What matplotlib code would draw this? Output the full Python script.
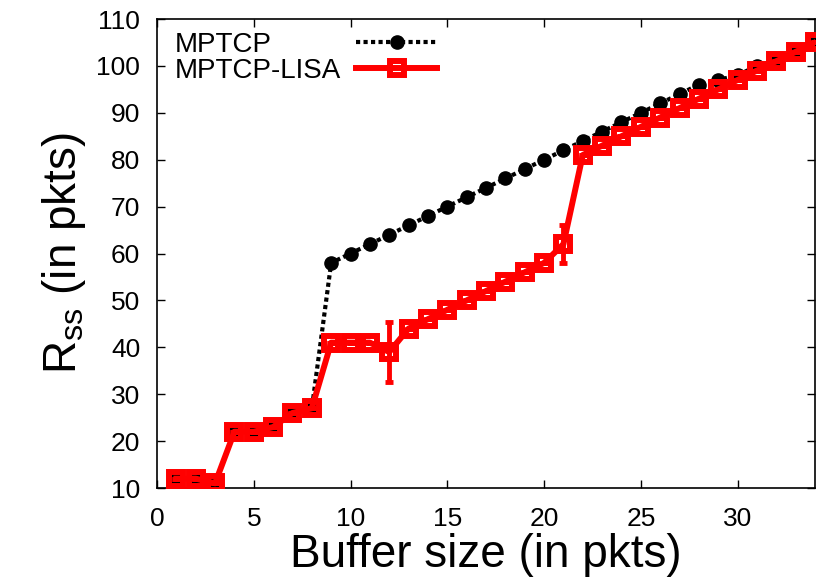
import matplotlib
matplotlib.use("Agg")
import matplotlib.pyplot as plt

plt.rcParams['font.family'] = ['Liberation Sans', 'DejaVu Sans']
plt.rcParams['mathtext.fontset'] = 'custom'
plt.rcParams['mathtext.rm'] = 'Liberation Sans'

buffer_size = list(range(1, 35))
mptcp = [12, 12, 11, 22, 22, 23, 26, 27, 58, 60, 62, 64, 66, 68, 70, 72, 74,
         76, 78, 80, 82, 84, 86, 88, 90, 92, 94, 96, 97, 98, 100, 101, 103, 105]
lisa = [12, 12, 11, 22, 22, 23, 26, 27, 41, 41, 41, 39, 44, 46, 48, 50, 52,
        54, 56, 58, 62, 81, 83, 85, 87, 89, 91, 93, 95, 97, 99, 101, 103, 105]
lisa_err = [0, 0, 0, 0, 0, 0, 0, 0, 0, 0, 0, 6.5, 0, 0, 0, 0, 0,
            0, 0, 0, 4, 0, 0, 0, 0, 0, 0, 0, 0, 0, 0, 0, 0, 0]

fig = plt.figure(figsize=(8.29, 5.80), dpi=100)
ax = fig.add_axes([0.1894, 0.1586, 0.7937, 0.8086])

ax.plot(buffer_size, mptcp, color='black', lw=3, linestyle=(0, (1, 0.8)),
        marker='o', ms=9.5, label='MPTCP', zorder=2)
ax.errorbar(buffer_size, lisa, yerr=lisa_err, fmt='none', ecolor='red',
            elinewidth=3.5, capsize=3, capthick=3.5, zorder=3)
ax.plot(buffer_size, lisa, color='red', lw=4.3,
        marker='s', ms=10, mew=4.3, mfc='none', mec='red',
        label='MPTCP-LISA', zorder=3)

ax.set_xlim(0, 34)
ax.set_ylim(10, 110)
ax.set_xticks([0, 5, 10, 15, 20, 25, 30])
ax.set_yticks(range(10, 111, 10))
ax.tick_params(direction='in', length=6, width=1, top=True, right=True,
               labelsize=19)
ax.tick_params(axis='x', pad=14)
ax.tick_params(axis='y', pad=12)
for s in ax.spines.values():
    s.set_linewidth(1.2)

ax.set_xlabel('Buffer size (in pkts)', fontsize=33, labelpad=1)
ax.set_ylabel(r'$\mathregular{R_{ss}}$ (in pkts)', fontsize=33, labelpad=6)

handles, labels = ax.get_legend_handles_labels()
leg = ax.legend(handles, labels, loc='upper left', frameon=False,
                markerfirst=False, fontsize=20, handlelength=2.9,
                borderaxespad=0, borderpad=0, labelspacing=0.0,
                handletextpad=0.55, bbox_to_anchor=(0.027, 0.973))

# left-align the legend labels while keeping the samples on the right
fig.canvas.draw()
renderer = fig.canvas.get_renderer()
widths = [t.get_window_extent(renderer).width for t in leg.get_texts()]
column = leg._legend_handle_box.get_children()[0]
column.align = 'left'
for item, w in zip(column.get_children(), widths):
    item.sep += (max(widths) - w) * 72 / fig.dpi

fig.savefig('out.png', dpi=100)
